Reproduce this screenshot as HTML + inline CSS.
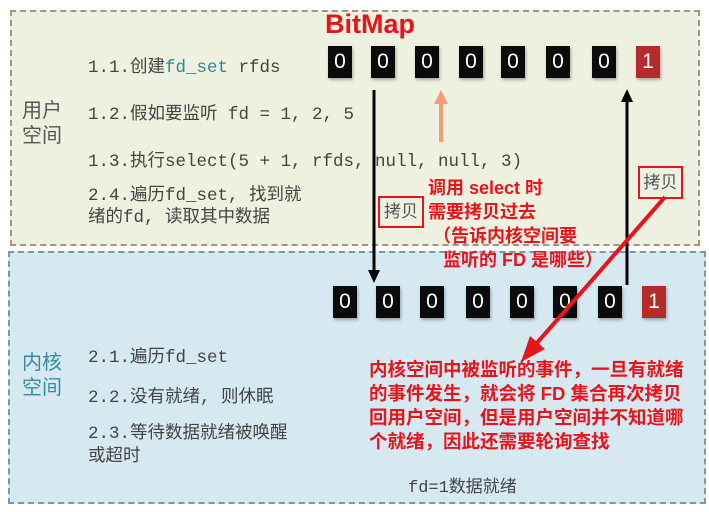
<!DOCTYPE html>
<html><head><meta charset="utf-8"><style>
body{margin:0;width:709px;height:512px;background:#fff;position:relative;overflow:hidden;font-family:"Liberation Sans","Noto Sans CJK SC",sans-serif}
.a{position:absolute;white-space:nowrap}
.m{font-family:"Liberation Mono","Noto Sans CJK SC",monospace;font-size:17.5px;color:#444}
.b{position:absolute;width:24px;height:32px;background:#0b0b0b;color:#fff;font-size:21px;text-align:center;line-height:32px;box-shadow:1px 2px 3px rgba(0,0,0,.3)}
.r{background:#b52a2a}
.red{color:#e8141c;font-weight:bold}
</style></head><body>
<div class="a" style="left:10px;top:10px;width:686px;height:232px;background:#eef0e0;border:2px dashed #9a9a80"></div>
<div class="a" style="left:8px;top:251px;width:694px;height:249px;background:#d6e9f0;border:2px dashed #7f97a5"></div>

<div class="a red" style="left:325px;top:9px;font-size:27px">BitMap</div>

<div class="b" style="left:328px;top:46px">0</div><div class="b" style="left:371px;top:46px">0</div><div class="b" style="left:415px;top:46px">0</div><div class="b" style="left:459px;top:46px">0</div><div class="b" style="left:501px;top:46px">0</div><div class="b" style="left:546px;top:46px">0</div><div class="b" style="left:592px;top:46px">0</div><div class="b r" style="left:636px;top:46px">1</div>

<div class="b" style="left:333px;top:286px">0</div><div class="b" style="left:376px;top:286px">0</div><div class="b" style="left:420px;top:286px">0</div><div class="b" style="left:466px;top:286px">0</div><div class="b" style="left:510px;top:286px">0</div><div class="b" style="left:553px;top:286px">0</div><div class="b" style="left:598px;top:286px">0</div><div class="b r" style="left:642px;top:286px">1</div>

<svg class="a" style="left:0;top:0" width="709" height="512">
<line x1="374" y1="90" x2="374" y2="272" stroke="#000" stroke-width="3"/>
<polygon points="368,270 380,270 374,283" fill="#000"/>
<line x1="627" y1="285" x2="627" y2="100" stroke="#000" stroke-width="3"/>
<polygon points="621,102 633,102 627,89" fill="#000"/>
<line x1="441" y1="142" x2="441" y2="102" stroke="#f0a070" stroke-width="4"/>
<polygon points="434,104 448,104 441,90" fill="#f0a070"/>
<line x1="665" y1="197" x2="536" y2="344" stroke="#e8141c" stroke-width="4"/>
<polygon points="521,362 530,336 545,349" fill="#e8141c"/>
</svg>

<div class="a m" style="left:88px;top:53px">1.1.创建<span style="color:#2a8a9a">fd_set</span> rfds</div>
<div class="a m" style="left:88px;top:100px">1.2.假如要监听 fd = 1, 2, 5</div>
<div class="a m" style="left:88px;top:147px">1.3.执行select(5 + 1, rfds, null, null, 3)</div>
<div class="a m" style="left:88px;top:185px;line-height:22px">2.4.遍历fd_set, 找到就<br>绪的fd, 读取其中数据</div>
<div class="a" style="left:22px;top:99px;font-size:20px;color:#555;line-height:25px">用户<br>空间</div>

<div class="a" style="left:378px;top:196px;width:46px;height:32px;border:2px solid #e8141c;box-sizing:border-box;font-size:17px;color:#555;text-align:center;line-height:28px">拷贝</div>
<div class="a" style="left:638px;top:166px;width:45px;height:33px;border:2px solid #e8141c;box-sizing:border-box;font-size:17px;color:#555;text-align:center;line-height:29px">拷贝</div>
<div class="a red" style="left:428px;top:176px;font-size:18px;line-height:24px">调用 select 时<br>需要拷贝过去<br>&nbsp;（告诉内核空间要<br>&nbsp;&nbsp;&nbsp;监听的 FD 是哪些）</div>

<div class="a" style="left:22px;top:351px;font-size:20px;color:#3a8aa0;line-height:25px">内核<br>空间</div>
<div class="a m" style="left:88px;top:343px">2.1.遍历fd_set</div>
<div class="a m" style="left:88px;top:383px">2.2.没有就绪, 则休眠</div>
<div class="a m" style="left:88px;top:423px;line-height:23px">2.3.等待数据就绪被唤醒<br>或超时</div>
<div class="a m" style="left:408px;top:472px;font-size:17px">fd=1数据就绪</div>
<div class="a red" style="left:369px;top:358px;font-size:18.5px;line-height:24px">内核空间中被监听的事件，一旦有就绪<br>的事件发生，就会将 FD 集合再次拷贝<br>回用户空间，但是用户空间并不知道哪<br>个就绪，因此还需要轮询查找</div>
</body></html>
